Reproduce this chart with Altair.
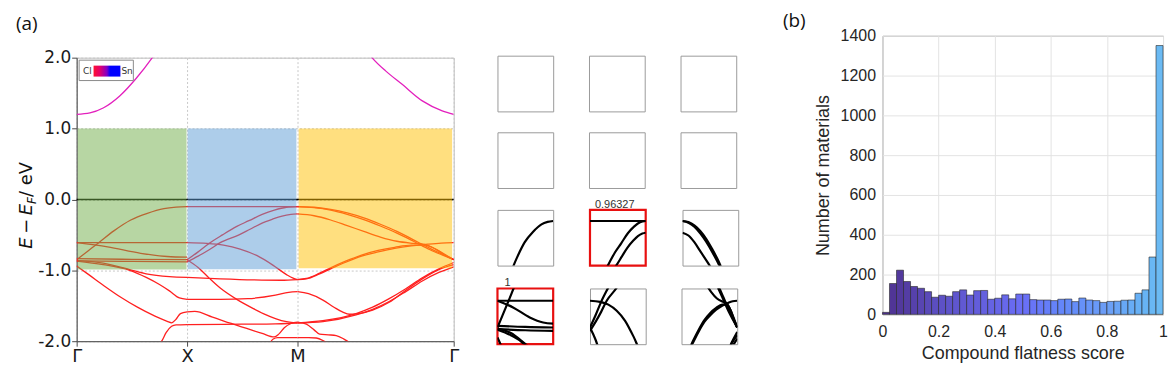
import altair as alt
import pandas as pd

# ---------------- Panel (a): band structure (k, E) ----------------
K_TICKS = [0.0, 1.0, 2.0, 3.414]
K_LABELS = ["Γ", "X", "M", "Γ"]
E_TICKS = [-2.0, -1.0, 0.0, 1.0, 2.0]

# Γ–X segment
GX_A = [(0.0, -0.85), (0.1, -0.73), (0.2, -0.61), (0.34, -0.44), (0.49, -0.29), (0.64, -0.196), (0.79, -0.13), (0.9, -0.108), (1.0, -0.10)]
GX_F = [(0.0, -0.61), (0.5, -0.61), (1.0, -0.61)]
GX_B = [(0.0, -0.61), (0.28, -0.67), (0.58, -0.76), (0.82, -0.805), (1.0, -0.815)]
GX_C1 = [(0.0, -0.835), (0.5, -0.845), (1.0, -0.85)]
GX_C2 = [(0.0, -0.865), (0.5, -0.875), (1.0, -0.88)]
GX_D = [(0.0, -0.86), (0.24, -0.9), (0.48, -0.99), (0.63, -1.05), (0.84, -1.09), (1.0, -1.10)]
GX_E = [(0.0, -0.87), (0.24, -0.92), (0.48, -1.0), (0.63, -1.1), (0.75, -1.2), (0.84, -1.29), (0.93, -1.39), (1.0, -1.41)]
GX_L1 = [(0.0, -0.94), (0.1, -1.05), (0.25, -1.22), (0.4, -1.38), (0.55, -1.52), (0.7, -1.64), (0.82, -1.72), (0.86, -1.74), (0.9, -1.69), (0.94, -1.61), (1.0, -1.585)]
GX_K = [(0.74, -2.05), (0.77, -2.0), (0.81, -1.88), (0.86, -1.79), (0.9, -1.77), (1.0, -1.765)]

# X–M segment
XM_T = [(1.0, -0.10), (1.5, -0.10), (2.0, -0.10)]
XM_F = [(1.0, -0.61), (1.18, -0.62), (1.33, -0.645), (1.48, -0.70), (1.63, -0.79), (1.78, -0.93), (1.9, -1.06), (1.96, -1.11), (2.0, -1.13)]
XM_G1 = [(1.0, -0.85), (1.1, -0.74), (1.2, -0.62), (1.32, -0.50), (1.45, -0.38), (1.56, -0.30), (1.68, -0.21), (1.79, -0.15), (1.9, -0.11), (2.0, -0.10)]
XM_G2 = [(1.0, -0.88), (1.1, -0.80), (1.2, -0.71), (1.3, -0.61), (1.47, -0.50), (1.57, -0.42), (1.67, -0.34), (1.77, -0.28), (1.86, -0.235), (1.94, -0.212), (2.0, -0.205)]
XM_H = [(1.0, -0.85), (1.1, -0.96), (1.2, -1.11), (1.3, -1.25), (1.45, -1.41), (1.6, -1.54), (1.69, -1.61), (1.8, -1.68), (1.9, -1.725), (2.0, -1.745)]
XM_D = [(1.0, -1.10), (1.3, -1.12), (1.6, -1.135), (1.85, -1.14), (2.0, -1.13)]
XM_E = [(1.0, -1.41), (1.3, -1.41), (1.55, -1.40), (1.8, -1.35), (1.92, -1.31), (2.0, -1.30)]
XM_L1 = [(1.0, -1.585), (1.07, -1.58), (1.23, -1.66), (1.4, -1.75), (1.54, -1.82), (1.68, -1.89), (1.79, -1.94), (1.83, -1.90), (1.88, -1.81), (1.94, -1.75), (2.0, -1.73)]
XM_K = [(1.0, -1.765), (1.5, -1.76), (1.8, -1.755), (1.9, -1.75), (2.0, -1.74)]
XM_LB = [(1.74, -2.05), (1.78, -1.97), (1.82, -1.95), (1.9, -1.95), (2.0, -1.95)]

# M–Γ segment
MG_P1 = [(2.0, -0.10), (2.15, -0.11), (2.3, -0.14), (2.45, -0.19), (2.6, -0.26), (2.75, -0.35), (2.9, -0.45), (3.05, -0.57), (3.2, -0.69), (3.32, -0.78), (3.414, -0.85)]
MG_P2 = [(2.0, -0.10), (2.15, -0.115), (2.3, -0.15), (2.45, -0.21), (2.6, -0.285), (2.75, -0.375), (2.9, -0.475), (3.05, -0.59), (3.2, -0.71), (3.32, -0.79), (3.414, -0.85)]
MG_Q = [(2.0, -0.205), (2.15, -0.23), (2.3, -0.29), (2.45, -0.37), (2.6, -0.45), (2.75, -0.53), (2.9, -0.59), (3.05, -0.62), (3.15, -0.635), (3.25, -0.70), (3.34, -0.78), (3.414, -0.85)]
MG_R1 = [(2.0, -1.13), (2.08, -1.12), (2.2, -1.05), (2.3, -0.98), (2.43, -0.89), (2.58, -0.80), (2.73, -0.74), (2.88, -0.69), (3.03, -0.655), (3.18, -0.63), (3.3, -0.615), (3.414, -0.61)]
MG_R2 = [(2.0, -1.13), (2.08, -1.115), (2.2, -1.04), (2.3, -0.965), (2.43, -0.875), (2.58, -0.785), (2.73, -0.72), (2.88, -0.675), (3.03, -0.645), (3.15, -0.645), (3.25, -0.70), (3.33, -0.78), (3.414, -0.85)]
MG_S = [(2.0, -1.30), (2.1, -1.33), (2.23, -1.42), (2.33, -1.52), (2.41, -1.59), (2.47, -1.62), (2.55, -1.61), (2.68, -1.56), (2.83, -1.45), (2.98, -1.28), (3.13, -1.12), (3.28, -0.99), (3.414, -0.92)]
MG_K = [(2.0, -1.74), (2.23, -1.71), (2.53, -1.61), (2.68, -1.52), (2.83, -1.40), (2.98, -1.26), (3.13, -1.105), (3.28, -0.98), (3.414, -0.89)]
MG_H = [(2.0, -1.745), (2.23, -1.725), (2.53, -1.63), (2.68, -1.55), (2.83, -1.44), (2.98, -1.30), (3.13, -1.15), (3.28, -1.03), (3.414, -0.95)]
MG_LB1 = [(2.0, -1.73), (2.08, -1.76), (2.15, -1.84), (2.2, -1.9), (2.28, -1.91), (2.35, -1.92), (2.42, -1.97), (2.47, -2.02), (2.5, -2.06)]
MG_LB2 = [(2.0, -1.95), (2.1, -1.95), (2.17, -1.955), (2.23, -1.99), (2.28, -2.04)]

# conduction band (mixed Cl/Sn character)
CB_L = [(0.0, 1.20), (0.12, 1.22), (0.24, 1.29), (0.39, 1.46), (0.54, 1.71), (0.68, 1.99), (0.75, 2.15)]
CB_R = [(2.6, 2.15), (2.68, 1.99), (2.8, 1.81), (2.95, 1.62), (3.13, 1.39), (3.31, 1.25), (3.414, 1.20)]

# shaded k-windows
REGION_K0 = [0.01, 1.005, 2.01]
REGION_K1 = [0.995, 1.99, 3.40]
REGION_E0 = [-0.99, -0.985, -0.97]
REGION_E1 = [1.0, 1.0, 1.0]
REGION_COLORS = ["#70ad47", "#5b9bd5", "#ffc000"]

# small panels: energy windows per row, k-segments per column
ROW_WINDOWS = [(0.5, 1.0), (0.0, 0.5), (-0.5, 0.0), (-1.0, -0.5)]
COL_SEGMENTS = [("GX", 0.0, 1.0), ("XM", 1.0, 2.0), ("MG", 2.0, 3.414)]
HIGHLIGHT_CELLS = [(2, 1), (3, 0)]
HIGHLIGHT_SCORES = ["0.96327", "1"]

# ---------------- Panel (b): histogram ----------------
HIST_BIN_WIDTH = 0.025
HIST_COUNTS = [10, 155, 222, 165, 140, 131, 114, 86, 96, 91, 114, 123, 97, 119, 120, 76, 81, 98, 78, 102,
               102, 74, 72, 72, 69, 76, 77, 64, 82, 72, 69, 60, 65, 66, 71, 72, 106, 123, 288, 1351]
HIST_X_TICKS = [0, 0.2, 0.4, 0.6, 0.8, 1]
HIST_Y_TICKS = [0, 200, 400, 600, 800, 1000, 1200, 1400]
HIST_COLOR_STOPS = [0.0, 0.2, 0.5, 0.8, 1.0]
HIST_COLOR_RANGE = ["#4c2f8c", "#5c50c4", "#6a6ef6", "#6c9ef6", "#6cbcf2"]

# ---------------- build tables ----------------
SEGMENT_BANDS = {
    "GX": {"A": GX_A, "F": GX_F, "B": GX_B, "C1": GX_C1, "C2": GX_C2, "D": GX_D, "E": GX_E, "L1": GX_L1, "K": GX_K},
    "XM": {"T": XM_T, "F": XM_F, "G1": XM_G1, "G2": XM_G2, "H": XM_H, "D": XM_D, "E": XM_E, "L1": XM_L1, "K": XM_K, "LB": XM_LB},
    "MG": {"P1": MG_P1, "P2": MG_P2, "Q": MG_Q, "R1": MG_R1, "R2": MG_R2, "S": MG_S, "K": MG_K, "H": MG_H, "LB1": MG_LB1, "LB2": MG_LB2},
}
rows = []
for seg, bands in SEGMENT_BANDS.items():
    for name, pts in bands.items():
        for k, e in pts:
            rows.append({"seg": seg, "band": seg + "_" + name, "k": k, "E": e})
bands_df = pd.DataFrame(rows)

cb_rows = []
for name, pts in {"L": CB_L, "R": CB_R}.items():
    for k, e in pts:
        cb_rows.append({"band": name, "k": k, "E": e})
cb_df = pd.DataFrame(cb_rows)

rect_df = pd.DataFrame({"k0": REGION_K0, "k1": REGION_K1, "e0": REGION_E0, "e1": REGION_E1, "c": REGION_COLORS})
ONE = pd.DataFrame({"v": [0]})


def anchor(x0, x1, y0, y1):
    # invisible box that fixes the layout bounds of a panel
    return alt.Chart(ONE).mark_rect(opacity=0).encode(
        x=alt.value(x0), x2=alt.value(x1), y=alt.value(y0), y2=alt.value(y1))


FONT_A = "DejaVu Sans"
W_A, H_A = 379, 285

label_expr = " : ".join(
    [f"datum.value < {K_TICKS[i] + 0.5} ? '{K_LABELS[i]}'" for i in range(len(K_TICKS) - 1)]
) + f" : '{K_LABELS[-1]}'"

XS_A = alt.Scale(domain=[0, 3.414], nice=False, zero=False)
YS_A = alt.Scale(domain=[-2, 2], nice=False, zero=False)
XAX = alt.Axis(values=K_TICKS, labelExpr=label_expr, title=None, grid=True, gridDash=[2, 2],
               gridColor="#c8c8c8", domainColor="#4a4a4a", tickColor="#4a4a4a", tickSize=5,
               labelFont=FONT_A, labelFontSize=18, labelColor="#1a1a1a", labelPadding=1, labelFlush=False)
YAX = alt.Axis(values=E_TICKS, labelExpr="replace(format(datum.value, '.1f'), '\u2212', '-')", title=None,
               grid=True, gridDash=[2, 2], gridColor="#c8c8c8", domainColor="#4a4a4a", tickColor="#4a4a4a",
               tickSize=5, labelFont=FONT_A, labelFontSize=17, labelColor="#1a1a1a", labelPadding=1)

band_lines = alt.Chart(bands_df).mark_line(color="#ff2020", strokeWidth=1.3, interpolate="monotone", clip=True).encode(
    x=alt.X("k:Q", scale=XS_A, axis=XAX), y=alt.Y("E:Q", scale=YS_A, axis=YAX), detail="band:N")
cb_lines = alt.Chart(cb_df).mark_line(color="#e320bd", strokeWidth=1.3, interpolate="monotone", clip=True).encode(
    x=alt.X("k:Q", scale=XS_A, axis=XAX), y=alt.Y("E:Q", scale=YS_A, axis=YAX), detail="band:N")
fermi = alt.Chart(pd.DataFrame({"E": [0.0]})).mark_rule(color="black", strokeWidth=1.6).encode(
    y=alt.Y("E:Q", scale=YS_A, axis=YAX))
rects = alt.Chart(rect_df).mark_rect(opacity=0.5).encode(
    x=alt.X("k0:Q", scale=XS_A, axis=XAX), x2="k1:Q",
    y=alt.Y("e0:Q", scale=YS_A, axis=YAX), y2="e1:Q",
    color=alt.Color("c:N", scale=None))

leg_box = alt.Chart(ONE).mark_rect(fill="white", stroke="#8a8a8a", strokeWidth=1).encode(
    x=alt.value(2.5), x2=alt.value(57), y=alt.value(2.5), y2=alt.value(23))
leg_grad = alt.Chart(ONE).mark_rect(fill=alt.Gradient(
    gradient="linear", x1=0, x2=1, y1=0, y2=0,
    stops=[alt.GradientStop(color="#ff1030", offset=0), alt.GradientStop(color="#e00070", offset=0.25),
           alt.GradientStop(color="#8000c8", offset=0.5), alt.GradientStop(color="#0000ff", offset=0.62),
           alt.GradientStop(color="#0000ff", offset=1)])).encode(
    x=alt.value(17), x2=alt.value(44), y=alt.value(8), y2=alt.value(19))
leg_cl = alt.Chart(ONE).mark_text(text="Cl", font=FONT_A, fontSize=9, color="#333333", align="left", baseline="middle").encode(
    x=alt.value(6.5), y=alt.value(13.5))
leg_sn = alt.Chart(ONE).mark_text(text="Sn", font=FONT_A, fontSize=9, color="#333333", align="left", baseline="middle").encode(
    x=alt.value(45), y=alt.value(13.5))

ytitle_1 = alt.Chart(ONE).mark_text(text="E\u2009\u2212\u2009E", font=FONT_A, fontSize=18, fontStyle="italic",
                                    angle=270, align="left", baseline="middle", color="#111111").encode(
    x=alt.value(-50), y=alt.value(192))
ytitle_2 = alt.Chart(ONE).mark_text(text="F", font=FONT_A, fontSize=12, fontStyle="italic",
                                    angle=270, align="left", baseline="middle", color="#111111").encode(
    x=alt.value(-45), y=alt.value(147))
ytitle_3 = alt.Chart(ONE).mark_text(text=" / eV", font=FONT_A, fontSize=18,
                                    angle=270, align="left", baseline="middle", color="#111111").encode(
    x=alt.value(-50), y=alt.value(140))

panel_a = alt.layer(band_lines, cb_lines, fermi, rects, leg_box, leg_grad, leg_cl, leg_sn,
                    ytitle_1, ytitle_2, ytitle_3,
                    anchor(-61, -60, -12, -11), anchor(W_A + 9, W_A + 10, 0, 1)).properties(
    width=W_A, height=H_A, view=alt.ViewBackground(stroke="#bdbdbd", strokeWidth=1))

# spacer above panel (a) carrying the "(a)" tag
label_a = alt.Chart(ONE).mark_text(text="(a)", font="Open Sans", fontSize=19, align="left", baseline="top", color="#111111").encode(
    x=alt.value(-61), y=alt.value(-21))
spacer_a = alt.layer(anchor(0, 1, 0, 9), label_a).properties(
    width=W_A, height=9, view=alt.ViewBackground(stroke=None))

# ---------------- small panels ----------------
SMALL = 56


def small_panel(r, c):
    seg, k0, k1 = COL_SEGMENTS[c]
    lo, hi = ROW_WINDOWS[r]
    d = bands_df[bands_df["seg"] == seg]
    line = alt.Chart(d).mark_line(color="black", strokeWidth=2.2, interpolate="monotone", clip=True).encode(
        x=alt.X("k:Q", scale=alt.Scale(domain=[k0, k1], nice=False, zero=False), axis=None),
        y=alt.Y("E:Q", scale=alt.Scale(domain=[lo, hi], nice=False, zero=False), axis=None),
        detail="band:N")
    layers = [line, anchor(0, 1, -14, -13)]
    hl = (r, c) in HIGHLIGHT_CELLS
    if hl:
        score = HIGHLIGHT_SCORES[HIGHLIGHT_CELLS.index((r, c))]
        layers.append(alt.Chart(ONE).mark_text(text=score, font="Liberation Sans", fontSize=11, color="#333333",
                                               align="left", baseline="alphabetic").encode(
            x=alt.value(5 if c else 7), y=alt.value(-2)))
    view = alt.ViewBackground(stroke="#e81010", strokeWidth=2.2) if hl else alt.ViewBackground(stroke="#9a9a9a", strokeWidth=1)
    return alt.layer(*layers).properties(width=SMALL, height=SMALL, view=view)


grid = alt.vconcat(
    *[alt.hconcat(*[small_panel(r, c) for c in range(3)], spacing=34) for r in range(4)],
    spacing=5)
spacer_g = anchor(0, 1, 0, 5).properties(width=238, height=5, view=alt.ViewBackground(stroke=None))

# ---------------- panel (b) ----------------
FONT_B = "Liberation Sans"
hist_df = pd.DataFrame({
    "x0": [i * HIST_BIN_WIDTH for i in range(len(HIST_COUNTS))],
    "n": HIST_COUNTS,
})
hist_df["x1"] = hist_df["x0"] + HIST_BIN_WIDTH
hist_df["mid"] = hist_df["x0"] + HIST_BIN_WIDTH / 2

bars = alt.Chart(hist_df).mark_rect(stroke="#262626", strokeWidth=0.7, strokeOpacity=0.85).encode(
    x=alt.X("x0:Q", scale=alt.Scale(domain=[0, 1], nice=False, zero=False),
            axis=alt.Axis(values=HIST_X_TICKS, format="~g", title="Compound flatness score", grid=True,
                          gridColor="#e3e3e3", domain=False, ticks=False, labelFont=FONT_B, labelFontSize=16,
                          labelColor="#262626", labelPadding=9, labelFlush=False, titleFont=FONT_B,
                          titleFontSize=18, titleFontWeight="normal", titleColor="#262626", titlePadding=5)),
    x2="x1:Q",
    y=alt.Y("n:Q", scale=alt.Scale(domain=[0, 1400], nice=False),
            axis=alt.Axis(values=HIST_Y_TICKS, format="d", title="Number of materials", grid=True,
                          gridColor="#e3e3e3", domain=False, ticks=False, labelFont=FONT_B, labelFontSize=16,
                          labelColor="#262626", labelPadding=7, titleFont=FONT_B, titleFontSize=18,
                          titleFontWeight="normal", titleColor="#262626", titlePadding=8)),
    y2=alt.datum(0),
    color=alt.Color("mid:Q", scale=alt.Scale(domain=HIST_COLOR_STOPS, range=HIST_COLOR_RANGE), legend=None),
)
label_b = alt.Chart(ONE).mark_text(text="(b)", font="Open Sans", fontSize=19, align="left", baseline="top", color="#111111").encode(
    x=alt.value(-100), y=alt.value(-24))
panel_b = alt.layer(bars, label_b, anchor(-100, -99, -24, -23)).properties(
    width=282, height=280, view=alt.ViewBackground(stroke="#8c8c8c", strokeWidth=1))

left = alt.hconcat(
    alt.vconcat(spacer_a, panel_a, spacing=0),
    alt.vconcat(spacer_g, grid, spacing=0),
    spacing=31)

chart = alt.hconcat(left, panel_b, spacing=43).properties(
    padding={"left": 7, "top": 2, "right": 0, "bottom": 0}
).configure_view(stroke=None)

chart.save("out.html", embed_options={"renderer": "svg", "actions": False})
